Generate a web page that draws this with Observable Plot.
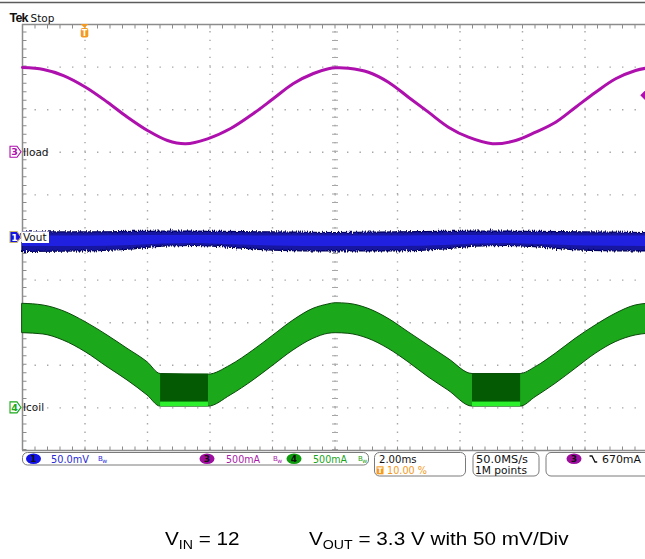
<!DOCTYPE html>
<html>
<head>
<meta charset="utf-8">
<script src="https://cdn.jsdelivr.net/npm/d3@7"></script>
<script src="https://cdn.jsdelivr.net/npm/@observablehq/plot@0.6"></script>
<style>
  html, body { margin:0; padding:0; background:#fff; }
  body { width:645px; height:559px; overflow:hidden; }
  #wrap { position:relative; width:645px; height:559px; overflow:hidden; }
  #chart svg { display:block; }
  #caption { position:relative; width:645px; height:69px; font-family:"Liberation Sans", Arial, sans-serif; color:#000; }
  #caption .c { position:absolute; top:39px; font-size:19px; line-height:19px; white-space:nowrap; transform:scaleX(1.09); transform-origin:0 0; }
  #caption sub { font-size:13px; vertical-align:baseline; position:relative; top:4px; line-height:0; }
</style>
</head>
<body>
<div id="wrap">
  <div id="chart"></div>
  <div id="caption"></div>
</div>
<script>
(function () {
// ---------------- data ----------------
const timeDomainMs = [-2, 18];               // 10 div x 2.00 ms, trigger at 10 %
const divDomain = [-5, 5];                   // 10 vertical divisions
const majorTimeMs = [0, 2, 4, 6, 8, 10, 12, 14, 16];
const majorDiv = [-4, -3, -2, -1, 1, 2, 3, 4];

// Channel 3 : Iload (mA)
const iloadTimeMs = [-2, -1.33, -0.69, 0.02, 0.72, 1.36, 2.0, 2.64, 3.22, 3.92, 4.66, 5.39, 6.03, 6.67, 7.31, 7.79, 8.02, 8.43, 9.07, 9.71, 10.35, 10.99, 11.63, 12.27, 13.04, 13.78, 14.42, 15.06, 15.70, 16.34, 16.98, 17.62, 18];
const iloadMA     = [995, 972, 901, 764, 588, 412, 256, 138, 100, 158, 279, 455, 631, 808, 925, 980, 992, 987, 940, 823, 647, 471, 295, 177, 100, 138, 236, 353, 529, 705, 863, 960, 990];

// Channel 1 : Vout ripple envelope (mV, AC)
const voutTimeMs    = [-2, 0, 1.5, 2.5, 3.5, 4.5, 6, 8, 10, 11.5, 12.5, 13.5, 14.5, 16, 18];
const voutMaxMV     = [5.9, 5.9, 6.5, 7.0, 7.0, 6.5, 5.9, 5.3, 5.9, 6.5, 7.0, 7.0, 6.5, 5.9, 5.3];
const voutMinMV     = [-17.0, -16.4, -14.1, -10.6, -10.0, -11.7, -15.3, -16.4, -16.4, -14.1, -10.6, -10.0, -11.7, -15.3, -16.4];
const voutCoreMaxMV = [1.8, 1.8, 2.0, 2.3, 2.3, 2.0, 1.8, 1.8, 1.8, 2.0, 2.3, 2.3, 2.0, 1.8, 1.8];
const voutCoreMinMV = [-10.6, -10.6, -9.4, -7.6, -7.0, -8.2, -10.0, -10.6, -10.6, -9.4, -7.6, -7.0, -8.2, -10.0, -10.6];

// Channel 4 : Icoil envelope (mA)
const icoilTimeMs = [-2, -1.33, -0.69, 0.02, 0.72, 1.36, 2.0, 2.42, 3.95, 4.66, 5.39, 6.03, 6.67, 7.31, 7.79, 8.02, 8.43, 9.07, 9.71, 10.35, 10.99, 11.63, 12.4, 13.94, 14.42, 15.06, 15.70, 16.34, 16.98, 17.62, 18];
const icoilMaxMA  = [1222, 1202, 1135, 1006, 850, 694, 536, 398, 390, 498, 674, 850, 1026, 1163, 1214, 1229, 1222, 1163, 1046, 889, 732, 576, 398, 398, 478, 635, 811, 967, 1104, 1202, 1222];
const icoilMinMA  = [877, 862, 791, 654, 478, 322, 146, 15, 15, 146, 322, 498, 674, 811, 870, 877, 870, 811, 694, 536, 360, 204, 15, 15, 126, 283, 459, 635, 771, 850, 870];
// discontinuous-mode segments
const dcmStartMs = [2.42, 12.4];
const dcmEndMs   = [3.95, 13.94];
const dcmPeakMA  = [396, 396];
const dcmKneeMA  = [67, 67];
const dcmFloorMA = [15, 15];

// scope settings / readouts
const chanIds     = ["3", "1", "4"];
const chanNames   = ["Iload", "Vout", "Icoil"];
const chanGround  = [2, 0, -4];             // divisions
const chanScale   = [500, 50, 500];         // per division
const readoutIds    = ["1", "3", "4"];
const readoutScales = ["50.0mV", "500mA", "500mA"];
const timebaseLabel = "2.00ms";
const trigPosLabel  = "10.00 %";
const sampleLabel   = ["50.0MS/s", "1M points"];
const trigSource    = "3";
const trigLevelMA   = 670;
const trigLevelLabel = "670mA";
const captionParts = [["V", "IN", " = 12"], ["V", "OUT", " = 3.3 V with 50 mV/Div"]];

// ---------------- transforms ----------------
const toDiv = (v, k) => v / chanScale[k] + chanGround[k];
const iload = iloadTimeMs.map((t, i) => ({t, y: toDiv(iloadMA[i], 0)}));
const vout = voutTimeMs.map((t, i) => ({t, hi: toDiv(voutMaxMV[i], 1), lo: toDiv(voutMinMV[i], 1), chi: toDiv(voutCoreMaxMV[i], 1), clo: toDiv(voutCoreMinMV[i], 1)}));
const icoil = icoilTimeMs.map((t, i) => ({t, hi: toDiv(icoilMaxMA[i], 2), lo: toDiv(icoilMinMA[i], 2)}));
const dcm = dcmStartMs.map((s, i) => ({s, e: dcmEndMs[i], peak: toDiv(dcmPeakMA[i], 2), knee: toDiv(dcmKneeMA[i], 2), floor: toDiv(dcmFloorMA[i], 2)}));
const trig = [{t: timeDomainMs[1], y: toDiv(trigLevelMA, 0)}];

const gridColor = "#a6a6a6", frameColor = "#8c8c8c";
const purple = "#ad10ad", blueOuter = "#1212a0", blueCore = "#2020e0", green = "#1ba81b";
const x1 = timeDomainMs[0], x2 = timeDomainMs[1];

const plot = Plot.plot({
  width: 645, height: 490,
  marginTop: 0, marginRight: 0, marginBottom: 0, marginLeft: 0,
  x: {domain: timeDomainMs, range: [22, 647], axis: null},
  y: {domain: divDomain, range: [450, 24], axis: null},
  style: {background: "#fff"},
  marks: [
    // graticule
    Plot.ruleY(majorDiv, {x1, x2, stroke: gridColor, strokeWidth: 1.4, strokeDasharray: "1.4 11.1"}),
    Plot.ruleX(majorTimeMs, {y1: divDomain[0], y2: divDomain[1], stroke: gridColor, strokeWidth: 1.4, strokeDasharray: "1.4 7.12"}),
    Plot.ruleX([8], {y1: divDomain[0], y2: divDomain[1], stroke: gridColor, strokeWidth: 6, strokeDasharray: "1 7.52"}),
    Plot.ruleY([0], {x1, x2, stroke: gridColor, strokeWidth: 6, strokeDasharray: "1 11.5"}),
    // frame
    Plot.ruleX([x1], {y1: divDomain[0], y2: divDomain[1], stroke: frameColor, strokeWidth: 1.5}),
    Plot.ruleY([divDomain[1], divDomain[0]], {x1, x2, stroke: frameColor, strokeWidth: 1.5}),
    Plot.ruleX([x1], {y1: divDomain[0], y2: divDomain[1], dx: 2, stroke: frameColor, strokeWidth: 4, strokeDasharray: "1 7.52"}),
    Plot.ruleY([divDomain[1]], {x1, x2, dy: 2, stroke: frameColor, strokeWidth: 4, strokeDasharray: "1 11.5"}),
    Plot.ruleY([divDomain[0]], {x1, x2, dy: -2, stroke: frameColor, strokeWidth: 4, strokeDasharray: "1 11.5"}),
    // Icoil
    Plot.areaY(icoil, {x: "t", y1: "lo", y2: "hi", fill: green, stroke: "#0b4a0b", strokeWidth: 1, curve: "monotone-x"}),
    Plot.rect(dcm, {x1: "s", x2: "e", y1: "knee", y2: "peak", fill: "#035a03"}),
    Plot.rect(dcm, {x1: "s", x2: "e", y1: "floor", y2: "knee", fill: "#2df02d"}),
    // Vout
    Plot.areaY(vout, {x: "t", y1: "lo", y2: "hi", fill: blueOuter, stroke: "#00005a", strokeWidth: 1.2, curve: "monotone-x"}),
    Plot.areaY(vout, {x: "t", y1: "clo", y2: "chi", fill: blueCore, curve: "monotone-x"}),
    // Iload
    Plot.line(iload, {x: "t", y: "y", stroke: purple, strokeWidth: 3, curve: "catmull-rom"}),
    Plot.dot(trig, {x: "t", y: "y", symbol: "diamond2", r: 6.5, fill: purple})
  ]
});
document.getElementById("chart").appendChild(plot);

// ---------- decorations ----------
const X = plot.scale("x"), Y = plot.scale("y");
const svg = d3.select(plot);
const defs = svg.insert("defs", ":first-child");
const f = defs.append("filter").attr("id", "vnoise").attr("x", "-2%").attr("y", "-60%").attr("width", "104%").attr("height", "220%");
f.append("feTurbulence").attr("type", "fractalNoise").attr("baseFrequency", "0.8 0.06").attr("numOctaves", 2).attr("seed", 4).attr("result", "n");
f.append("feDisplacementMap").attr("in", "SourceGraphic").attr("in2", "n").attr("scale", 6).attr("xChannelSelector", "A").attr("yChannelSelector", "G");
svg.selectAll(`[fill="${blueOuter}"]`).attr("filter", "url(#vnoise)");

const g = svg.append("g").attr("font-family", "'DejaVu Sans', sans-serif").attr("text-anchor", "start");
// top border line of screenshot
g.append("line").attr("x1", 0).attr("x2", 645).attr("y1", 2.5).attr("y2", 2.5).attr("stroke", "#5c5c5c").attr("stroke-width", 1.5);
// Tek Stop
g.append("text").attr("x", 9.5).attr("y", 22).attr("font-family", "'Liberation Sans', Arial, sans-serif").attr("font-weight", "bold").attr("font-size", 12.5).attr("letter-spacing", -0.8).attr("fill", "#111").text("Tek");
g.append("text").attr("x", 30.5).attr("y", 22).attr("font-size", 10.5).attr("fill", "#111").text("Stop");
// trigger position marker
const orange = "#f59a20";
const tx = X.apply(0), topY = Y.apply(divDomain[1]);
g.append("path").attr("d", `M${tx - 3.8},${topY} L${tx + 3.8},${topY} L${tx},${topY + 4} Z`).attr("fill", orange);
g.append("rect").attr("x", tx - 3.8).attr("y", topY + 4).attr("width", 7.6).attr("height", 9.5).attr("rx", 2).attr("fill", orange);
g.append("text").attr("x", tx).attr("y", topY + 12).attr("text-anchor", "middle").attr("font-size", 8).attr("font-weight", "bold").attr("fill", "#fff").text("T");

// channel ground markers and names
const chanColors = [purple, "#1414e6", green];
chanIds.forEach((id, k) => {
  const y = Y.apply(chanGround[k]);
  const filled = id === "1";
  if (filled) g.append("rect").attr("x", 22).attr("y", y - 5.5).attr("width", 27).attr("height", 11.5).attr("fill", "#fff");
  g.append("path").attr("d", `M10,${y - 5.5} H17 L21,${y} L17,${y + 5.5} H10 Z`)
    .attr("fill", filled ? chanColors[k] : "#fff").attr("stroke", filled ? "#c9b46a" : chanColors[k]).attr("stroke-width", 1.1);
  g.append("text").attr("x", 14.5).attr("y", y + 3.5).attr("text-anchor", "middle").attr("font-size", 9.5).attr("font-weight", "bold")
    .attr("fill", filled ? "#fff" : chanColors[k]).text(id);
  g.append("text").attr("x", 23).attr("y", y + 4).attr("font-size", 10.5).attr("fill", "#111").text(chanNames[k]);
});

// status bar
const sb = g.append("g").attr("font-size", 10);
const box = (x, y, w, h) => sb.append("rect").attr("x", x).attr("y", y).attr("width", w).attr("height", h).attr("rx", 5).attr("fill", "#fff").attr("stroke", "#7a7a7a").attr("stroke-width", 1);
const badge = (cx, cy, fill, label) => {
  sb.append("ellipse").attr("cx", cx).attr("cy", cy).attr("rx", 7.5).attr("ry", 5.3).attr("fill", fill);
  sb.append("text").attr("x", cx).attr("y", cy + 3.2).attr("text-anchor", "middle").attr("font-size", 9).attr("font-weight", "bold").attr("fill", "#111").text(label);
};
const txt = (x, y, s, fill, len) => {
  const t = sb.append("text").attr("x", x).attr("y", y).attr("fill", fill).text(s);
  if (len) t.attr("textLength", len).attr("lengthAdjust", "spacingAndGlyphs");
  return t;
};
const bw = (x, y, fill) => {
  sb.append("text").attr("x", x).attr("y", y).attr("font-size", 7).attr("fill", fill).text("B");
  sb.append("text").attr("x", x + 4.3).attr("y", y + 2).attr("font-size", 6).attr("fill", fill).text("w");
};
box(22.5, 452.5, 346, 12.5);
const rb = ["#1212e6", "#9e0e9e", "#0e9c0e"];
const rt = ["#2a2ad8", "#a81ca8", "#1aa31a"];
const badgeX = [33.5, 207, 294], textX = [51, 226, 313], bwX = [98, 273, 358];
readoutIds.forEach((id, i) => {
  badge(badgeX[i], 458.8, rb[i], id);
  txt(textX[i], 462.6, readoutScales[i], rt[i], i === 0 ? 38 : 34);
  bw(bwX[i], 461, rt[i]);
});
box(374.5, 452.5, 91, 23.5);
txt(379, 462.6, timebaseLabel, "#111", 37.5);
sb.append("rect").attr("x", 376.5).attr("y", 466.3).attr("width", 7).attr("height", 8).attr("fill", orange);
sb.append("text").attr("x", 380).attr("y", 473.2).attr("text-anchor", "middle").attr("font-size", 7.5).attr("font-weight", "bold").attr("fill", "#fff").text("T");
txt(387, 473.8, trigPosLabel, orange, 40);
box(473, 452.5, 66, 23.5);
txt(476, 462.6, sampleLabel[0], "#111", 52);
txt(475, 473.8, sampleLabel[1], "#111", 52);
box(546, 452.5, 110, 23.5);
badge(574, 458.8, "#9e0e9e", trigSource);
sb.append("path").attr("d", "M589.5,456 h2.5 l3,6 h2.2").attr("fill", "none").attr("stroke", "#111").attr("stroke-width", 1.3);
txt(602, 462.6, trigLevelLabel, "#111", 39);

// caption
const cap = d3.select("#caption");
const capX = [165, 309];
captionParts.forEach((p, i) => {
  const s = cap.append("span").attr("class", "c").style("left", capX[i] + "px");
  s.append("span").text(p[0]);
  s.append("sub").text(p[1]);
  s.append("span").text(p[2]);
});
})();
</script>
</body>
</html>
